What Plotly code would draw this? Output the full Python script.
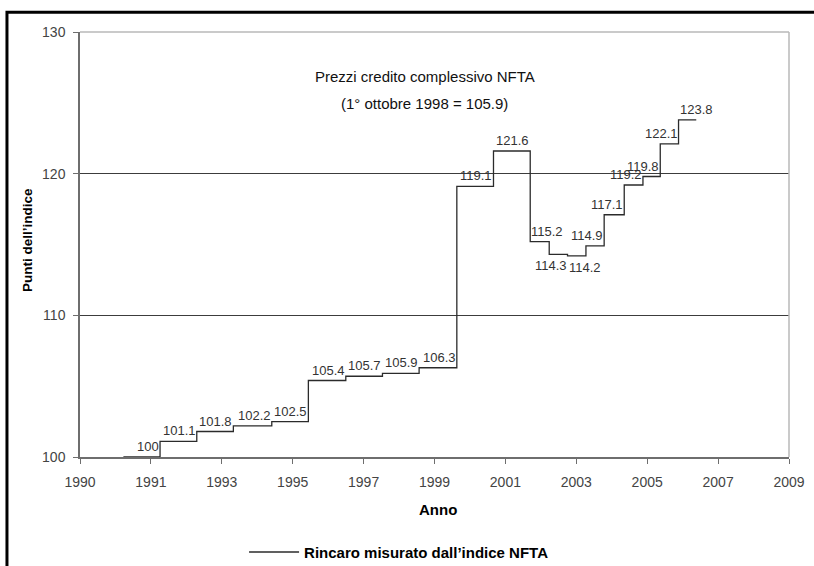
import plotly.graph_objects as go

# Axis tick positions and labels (the original axis is equally spaced with these labels)
tick_pos = [0, 1, 2, 3, 4, 5, 6, 7, 8, 9, 10]
tick_labels = ["1990", "1991", "1993", "1995", "1997", "1999", "2001", "2003", "2005", "2007", "2009"]

# Step start positions (axis units) and index levels
step_start = [0.612, 1.129, 1.647, 2.163, 2.705, 3.221, 3.749, 4.266, 4.783, 5.315,
              5.832, 6.350, 6.618, 6.876, 7.136, 7.393, 7.676, 7.940, 8.184, 8.442]
step_end_last = 8.692
index_values = [100, 101.1, 101.8, 102.2, 102.5, 105.4, 105.7, 105.9, 106.3, 119.1,
                121.6, 115.2, 114.3, 114.2, 114.9, 117.1, 119.2, 119.8, 122.1, 123.8]
value_labels = ["100", "101.1", "101.8", "102.2", "102.5", "105.4", "105.7", "105.9", "106.3", "119.1",
                "121.6", "115.2", "114.3", "114.2", "114.9", "117.1", "119.2", "119.8", "122.1", "123.8"]
# label placement: anchored at step start/end, above/below the step
label_place = ["end-above"] * 20
label_place[11] = "start-above"
label_place[12] = "end-below"
label_place[13] = "start-below"
label_place[19] = "start-above"

y_ticks = [100, 110, 120, 130]

SANS = "Liberation Sans, Arial, sans-serif"

xs = step_start + [step_end_last]
ys = index_values + [index_values[-1]]

fig = go.Figure()
fig.add_trace(go.Scatter(
    x=xs, y=ys, mode="lines", line=dict(shape="hv", color="#2b2b2b", width=1.3),
    name="<b>Rincaro misurato dall’indice NFTA</b>", showlegend=True, hoverinfo="skip"))

ends = step_start[1:] + [step_end_last]
annotations = []
for i, v in enumerate(index_values):
    where, side = label_place[i].split("-")
    if where == "end":
        x = ends[i]; xanchor = "right"
    else:
        x = step_start[i]; xanchor = "left"
    yanchor = "bottom" if side == "above" else "top"
    annotations.append(dict(x=x, y=v, xref="x", yref="y", text=value_labels[i], showarrow=False,
                            xanchor=xanchor, yanchor=yanchor, borderpad=0,
                            yshift=2 if side == "above" else -3,
                            font=dict(family=SANS, size=13, color="#333333")))

annotations += [
    dict(x=0.4864, y=0.896, xref="paper", yref="paper", text="Prezzi credito complessivo NFTA",
         showarrow=False, xanchor="center", yanchor="middle", font=dict(family=SANS, size=15, color="#111111")),
    dict(x=0.4864, y=0.8325, xref="paper", yref="paper", text="(1° ottobre 1998 = 105.9)",
         showarrow=False, xanchor="center", yanchor="middle", font=dict(family=SANS, size=15, color="#111111")),
    dict(x=(27 - 80) / 708.7, y=(457.3 - 240) / 425.6, xref="paper", yref="paper", text="<b>Punti dell’indice</b>",
         textangle=-90, showarrow=False, xanchor="center", yanchor="middle",
         font=dict(family=SANS, size=13.5, color="#000000")),
    dict(x=(437.8 - 80) / 708.7, y=(457.3 - 510) / 425.6, xref="paper", yref="paper", text="<b>Anno</b>",
         showarrow=False, xanchor="center", yanchor="middle", font=dict(family=SANS, size=15, color="#000000")),
]

shapes = [
    # light frame on top and right of plot area
    dict(type="line", xref="paper", yref="paper", x0=0, x1=1, y0=1, y1=1, line=dict(color="#b8b8b8", width=1.5), layer="above"),
    dict(type="line", xref="paper", yref="paper", x0=1, x1=1, y0=0, y1=1, line=dict(color="#b8b8b8", width=1.5), layer="above"),
    # outer black border of the picture
    dict(type="rect", xref="paper", yref="paper", x0=(7 - 80) / 708.7, x1=(840 - 80) / 708.7,
         y0=(457.3 - 590) / 425.6, y1=(457.3 - 12) / 425.6, line=dict(color="#000000", width=3)),
]

fig.update_layout(
    width=814, height=566,
    margin=dict(l=80, r=25.3, t=31.7, b=108.7, autoexpand=False),
    paper_bgcolor="white", plot_bgcolor="white",
    showlegend=True,
    legend=dict(orientation="h", x=(244 - 80) / 708.7, y=(457.3 - 552.7) / 425.6, xanchor="left", yanchor="middle",
                itemwidth=50, font=dict(family=SANS, size=15, color="#000000"), bgcolor="rgba(0,0,0,0)"),
    annotations=annotations, shapes=shapes,
    xaxis=dict(range=[0, 10], tickvals=tick_pos, ticktext=tick_labels, showgrid=False, zeroline=False,
               showline=True, linecolor="#6e6e6e", linewidth=1.5, ticks="outside", ticklen=5,
               tickcolor="#6e6e6e", ticklabelstandoff=6, automargin=False,
               tickfont=dict(family=SANS, size=14, color="#444444")),
    yaxis=dict(range=[100, 130], tickvals=y_ticks, showgrid=True, gridcolor="#3c3c3c", gridwidth=1,
               zeroline=False, showline=True, linecolor="#6e6e6e", linewidth=1.5, ticks="outside", ticklen=5,
               tickcolor="#6e6e6e", ticklabelstandoff=5, automargin=False,
               tickfont=dict(family=SANS, size=14, color="#444444")),
)

fig.write_html("out.html")
